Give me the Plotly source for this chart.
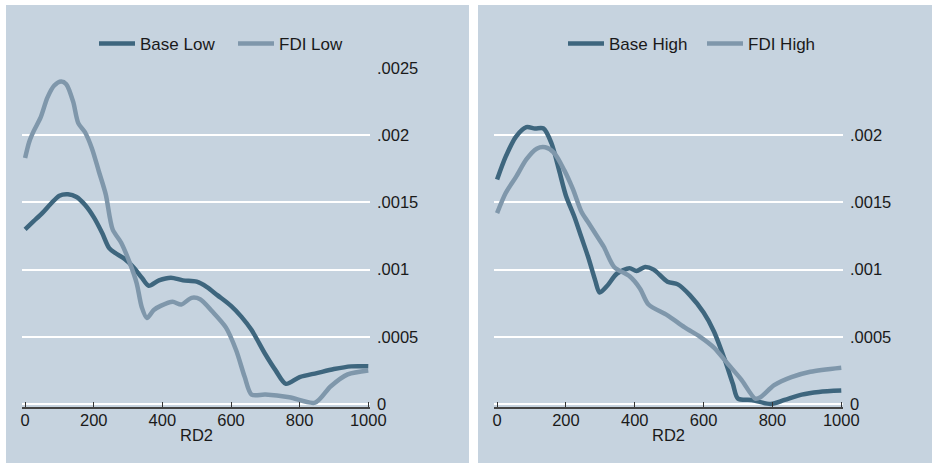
import plotly.graph_objects as go

# ---- data ----
base_low_x = [0, 25, 50, 75, 100, 125, 150, 175, 200, 225, 245, 265, 290, 315, 340, 360,
              390, 425, 460, 500, 530, 560, 600, 630, 660, 700, 730, 760, 800, 850, 900, 950, 1000]
base_low_y = [.00130, .00136, .00142, .00149, .00155, .00156, .00154, .00148, .00139, .00127,
              .00116, .00112, .00108, .00102, .00094, .00088, .00092, .00094, .00092, .00091,
              .00087, .00081, .00073, .00065, .00055, .00037, .00025, .00015, .00020, .00023,
              .00026, .00028, .00028]

fdi_low_x = [0, 12, 25, 45, 65, 85, 105, 120, 140, 155, 175, 195, 215, 235, 255, 280, 305, 325,
             340, 355, 375, 395, 430, 455, 485, 510, 545, 585, 615, 640, 660, 700, 770, 845,
             890, 940, 1000]
fdi_low_y = [.00183, .00195, .00203, .00213, .00228, .00237, .00240, .00238, .00225, .00209,
             .00202, .00190, .00173, .00156, .00130, .00120, .00105, .00090, .00072, .00064,
             .00070, .00073, .00076, .00074, .00079, .00078, .00069, .00057, .00040, .00020,
             .00007, .00007, .00005, .00001, .00013, .00022, .00025]

base_high_x = [0, 25, 55, 85, 110, 135, 158, 180, 200, 225, 245, 265, 285, 298, 320, 348, 385,
               405, 430, 455, 495, 525, 560, 600, 630, 660, 685, 700, 740, 795, 835, 885, 935, 1000]
base_high_y = [.00167, .00184, .00199, .00206, .00205, .00205, .00194, .00174, .00155, .00139,
               .00124, .00109, .00092, .00083, .00088, .00097, .00101, .00099, .00102, .00100,
               .00091, .00089, .00081, .00068, .00054, .00034, .00015, .00004, .00003, .00000,
               .00003, .00007, .00009, .00010]

fdi_high_x = [0, 25, 55, 85, 115, 140, 165, 195, 220, 245, 265, 290, 310, 340, 385, 415, 440,
              495, 545, 590, 630, 670, 710, 750, 765, 805, 855, 910, 1000]
fdi_high_y = [.00142, .00157, .00169, .00182, .00190, .00191, .00187, .00174, .00160, .00143,
              .00135, .00125, .00117, .00102, .00095, .00086, .00074, .00066, .00057, .00050,
              .00042, .00030, .00018, .00004, .00005, .00014, .00020, .00024, .00027]

x_ticks = [0, 200, 400, 600, 800, 1000]
y_ticks_left = [0, .0005, .001, .0015, .002, .0025]
y_text_left = ["0", ".0005", ".001", ".0015", ".002", ".0025"]
y_ticks_right = [0, .0005, .001, .0015, .002]
y_text_right = ["0", ".0005", ".001", ".0015", ".002"]

# ---- style ----
W, H = 932, 463
DARK = "#3E667E"
LIGHT = "#7F97AB"
PANEL = "#C6D3DF"
FONT = "Liberation Sans, Arial, sans-serif"
TXT = "#1a1a1a"

def px_x(p):
    return p / W

def px_y(p):
    return 1 - p / H

fig = go.Figure()
fig.add_trace(go.Scatter(x=base_low_x, y=base_low_y, name="Base Low", mode="lines",
                         line=dict(color=DARK, width=4.5, shape="spline", smoothing=0.8),
                         xaxis="x", yaxis="y", legend="legend"))
fig.add_trace(go.Scatter(x=fdi_low_x, y=fdi_low_y, name="FDI Low", mode="lines",
                         line=dict(color=LIGHT, width=4.5, shape="spline", smoothing=0.8),
                         xaxis="x", yaxis="y", legend="legend"))
fig.add_trace(go.Scatter(x=base_high_x, y=base_high_y, name="Base High", mode="lines",
                         line=dict(color=DARK, width=4.5, shape="spline", smoothing=0.8),
                         xaxis="x2", yaxis="y2", legend="legend2"))
fig.add_trace(go.Scatter(x=fdi_high_x, y=fdi_high_y, name="FDI High", mode="lines",
                         line=dict(color=LIGHT, width=4.5, shape="spline", smoothing=0.8),
                         xaxis="x2", yaxis="y2", legend="legend2"))

y_dom = [px_y(407), px_y(68)]
y_range = [-0.0000223, 0.0025]
x_range = [-9, 1005]

common_x = dict(range=x_range, tickvals=x_ticks, showgrid=False, zeroline=False,
                showline=True, linecolor="#444", linewidth=1.5, ticks="inside", ticklen=5,
                tickcolor="#333", tickwidth=1, tickfont=dict(family=FONT, size=16.5, color=TXT),
                ticklabelstandoff=-3, automargin=False)
common_y = dict(range=y_range, side="right", showgrid=True, gridcolor="white", gridwidth=1.5,
                zeroline=False, showline=False, ticks="", automargin=False,
                tickfont=dict(family=FONT, size=16.5, color=TXT), ticklabelstandoff=6)

legend_common = dict(orientation="h", bgcolor="rgba(0,0,0,0)", borderwidth=0,
                     font=dict(family=FONT, size=17, color=TXT), itemwidth=36,
                     xanchor="left", yanchor="middle", entrywidth=88, entrywidthmode="pixels")

fig.update_layout(
    template="none",
    width=W, height=H,
    autosize=False,
    margin=dict(l=0, r=0, t=0, b=0, pad=0),
    paper_bgcolor="white", plot_bgcolor="rgba(0,0,0,0)",
    showlegend=True,
    xaxis=dict(domain=[px_x(22), px_x(370)], anchor="y", **common_x),
    yaxis=dict(domain=y_dom, anchor="x", tickvals=y_ticks_left, ticktext=y_text_left, **common_y),
    xaxis2=dict(domain=[px_x(494), px_x(843)], anchor="y2", **common_x),
    yaxis2=dict(domain=y_dom, anchor="x2", tickvals=y_ticks_right, ticktext=y_text_right, **common_y),
    legend=dict(x=px_x(94), y=px_y(44), **legend_common),
    legend2=dict(x=px_x(563), y=px_y(44), **legend_common),
    shapes=[
        dict(type="rect", xref="paper", yref="paper", x0=px_x(6), x1=px_x(469), y0=0, y1=px_y(5),
             fillcolor=PANEL, line=dict(width=0), layer="below"),
        dict(type="rect", xref="paper", yref="paper", x0=px_x(478), x1=1, y0=0, y1=px_y(5),
             fillcolor=PANEL, line=dict(width=0), layer="below"),
    ],
    annotations=[
        dict(text="RD2", xref="paper", yref="paper", x=px_x(196), y=px_y(435), showarrow=False,
             font=dict(family=FONT, size=16.5, color=TXT), xanchor="center", yanchor="middle"),
        dict(text="RD2", xref="paper", yref="paper", x=px_x(668), y=px_y(435), showarrow=False,
             font=dict(family=FONT, size=16.5, color=TXT), xanchor="center", yanchor="middle"),
    ],
)

fig.write_html("out.html", config={"displayModeBar": False},
               post_script="document.body.style.margin='0';document.body.style.overflow='hidden';")
